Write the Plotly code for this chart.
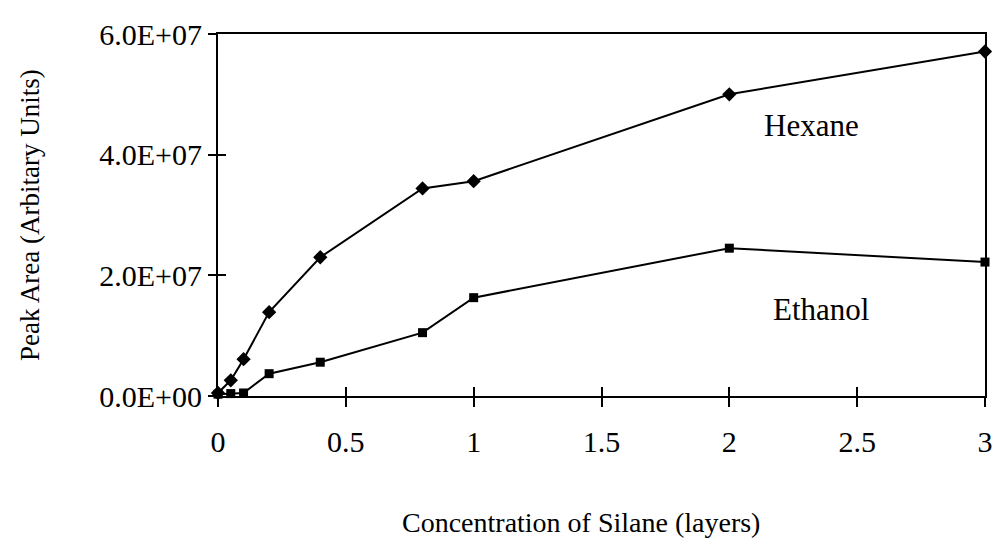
import plotly.graph_objects as go

conc = [0, 0.05, 0.1, 0.2, 0.4, 0.8, 1, 2, 3]
hexane = [0.5e6, 2.6e6, 6.1e6, 13.9e6, 23.0e6, 34.4e6, 35.6e6, 50.0e6, 57.1e6]
ethanol = [0.3e6, 0.4e6, 0.5e6, 3.7e6, 5.6e6, 10.5e6, 16.3e6, 24.5e6, 22.2e6]

ytick_vals = [0, 2e7, 4e7, 6e7]
ytick_text = ["0.0E+00", "2.0E+07", "4.0E+07", "6.0E+07"]
xtick_vals = [0, 0.5, 1, 1.5, 2, 2.5, 3]
xtick_text = ["0", "0.5", "1", "1.5", "2", "2.5", "3"]

FONT = "Liberation Serif, Times New Roman, serif"

W, H = 1001, 545
L, R, T, B = 218, 8, 34, 545 - 396

fig = go.Figure()
fig.add_trace(go.Scatter(x=conc, y=hexane, mode="lines+markers", name="Hexane",
                         line=dict(color="black", width=2),
                         marker=dict(symbol="diamond", size=11, color="black"),
                         cliponaxis=False, showlegend=False))
fig.add_trace(go.Scatter(x=conc, y=ethanol, mode="lines+markers", name="Ethanol",
                         line=dict(color="black", width=2),
                         marker=dict(symbol="square", size=9, color="black"),
                         cliponaxis=False, showlegend=False))
fig.add_trace(go.Scatter(x=[0], y=[0], xaxis="x2", yaxis="y2", mode="markers",
                         marker=dict(opacity=0), showlegend=False, hoverinfo="skip"))

pw = W - L - R
ph = H - T - B


def px(X):
    return (X - L) / pw


def py(Y):
    return (H - B - Y) / ph


fig.update_layout(
    width=W, height=H,
    margin=dict(l=L, r=R, t=T, b=B, pad=0),
    paper_bgcolor="white", plot_bgcolor="white",
    font=dict(family=FONT, size=27, color="black"),
    xaxis=dict(range=[0, 3], tickvals=xtick_vals, ticktext=xtick_text,
               ticks="outside", ticklen=9, tickwidth=2, tickcolor="black",
               showline=True, linecolor="black", linewidth=2, mirror=True,
               showgrid=False, zeroline=False, fixedrange=True,
               ticklabelstandoff=9, tickfont=dict(size=30)),
    xaxis2=dict(range=[0, 3], overlaying="x", side="bottom", matches="x",
                tickvals=xtick_vals, ticks="inside", ticklen=9, tickwidth=2,
                tickcolor="black", showticklabels=False, showline=False,
                showgrid=False, zeroline=False),
    yaxis=dict(range=[0, 6e7], tickvals=ytick_vals, ticktext=ytick_text,
               ticks="outside", ticklen=8, tickwidth=2, tickcolor="black",
               showline=True, linecolor="black", linewidth=2, mirror=True,
               showgrid=False, zeroline=False, fixedrange=True,
               ticklabelstandoff=0, tickfont=dict(size=30)),
    yaxis2=dict(range=[0, 6e7], overlaying="y", side="left", matches="y",
                tickvals=ytick_vals, ticks="inside", ticklen=8, tickwidth=2,
                tickcolor="black", showticklabels=False, showline=False,
                showgrid=False, zeroline=False),
    annotations=[
        dict(text="Hexane", x=2.32, y=44.9e6, xref="x", yref="y", showarrow=False,
             font=dict(size=31)),
        dict(text="Ethanol", x=2.36, y=14.3e6, xref="x", yref="y", showarrow=False,
             font=dict(size=31)),
        dict(text="Concentration of Silane (layers)", x=px(585), y=py(522),
             xref="paper", yref="paper", xanchor="center", yanchor="middle",
             showarrow=False, font=dict(size=28)),
        dict(text="Peak Area (Arbitary Units)", x=px(28), y=py(215), textangle=-90,
             xref="paper", yref="paper", xanchor="center", yanchor="middle",
             showarrow=False, font=dict(size=27)),
    ],
)

fig.write_html(
    "out.html",
    config={"displayModeBar": False},
    post_script="document.body.style.margin='0';document.body.style.overflow='hidden';",
)
